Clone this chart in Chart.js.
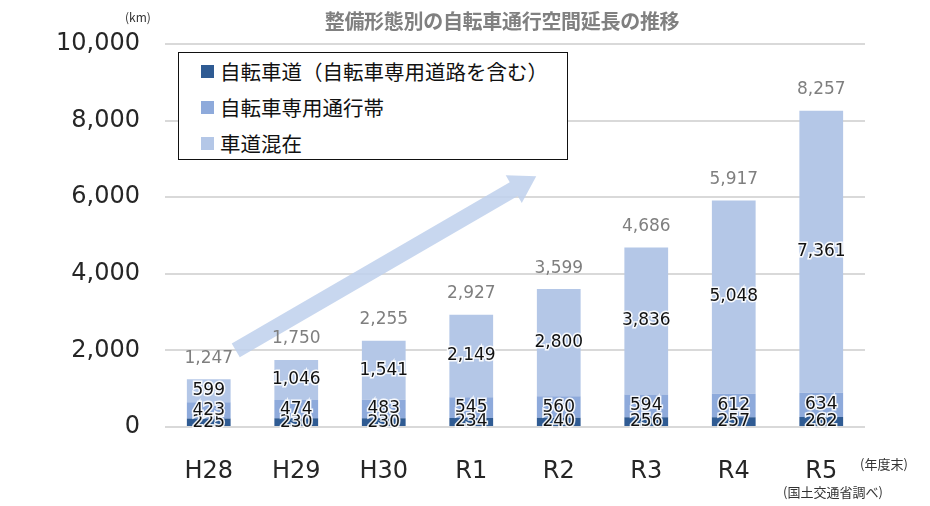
<!DOCTYPE html>
<html lang="ja">
<head>
<meta charset="utf-8">
<script src="https://cdn.jsdelivr.net/npm/chart.js@4.4.0/dist/chart.umd.min.js"></script>
<style>
  html, body { margin: 0; padding: 0; background: #fff; }
  #wrap { position: relative; width: 930px; height: 506px; }
  #legend {
    position: absolute; left: 178px; top: 52px; width: 388px; height: 106px;
    border: 1.5px solid #111; background: #fff;
    font-family: "Noto Sans CJK JP", sans-serif; font-size: 20.5px; color: #111;
  }
  #legend .row { position: absolute; left: 22px; display: flex; align-items: center; }
  #legend .sw { width: 13px; height: 13px; margin-right: 6px; }
  #title {
    position: absolute; left: 302px; width: 400px; top: 6px; text-align: center;
    font-family: "Noto Sans CJK JP", sans-serif; font-size: 20px; font-weight: bold; color: #808080;
    letter-spacing: -0.3px;
  }
  .note { position: absolute; font-family: "Noto Sans CJK JP", sans-serif; color: #333; font-size: 13px; }
</style>
</head>
<body>
<div id="wrap">
  <canvas id="chart" width="930" height="506"></canvas>
  <div id="title">整備形態別の自転車通行空間延長の推移</div>
  <div id="legend"></div>
  <div class="note" style="left:125px; top:8px; font-size:12px;">(km)</div>
  <div class="note" style="left:860px; top:454px;">(年度末)</div>
  <div class="note" style="left:783px; top:482px;">(国土交通省調べ)</div>
</div>
<script>
// データ
const years = ['H28', 'H29', 'H30', 'R1', 'R2', 'R3', 'R4', 'R5'];
const seriesNames = ['自転車道（自転車専用道路を含む）', '自転車専用通行帯', '車道混在'];
const cycleTrack = [225, 230, 230, 234, 240, 256, 257, 262];
const bikeLane = [423, 474, 483, 545, 560, 594, 612, 634];
const sharedRoad = [599, 1046, 1541, 2149, 2800, 3836, 5048, 7361];
const totals = [1247, 1750, 2255, 2927, 3599, 4686, 5917, 8257];
const yTicks = [0, 2000, 4000, 6000, 8000, 10000];
const colors = ['#2f5b93', '#8eaadb', '#b4c7e7'];

const numFont = '"DejaVu Sans", sans-serif';
const fmt = v => v.toLocaleString('en-US');

// 凡例（HTML）
const legendEl = document.getElementById('legend');
seriesNames.forEach((name, i) => {
    const row = document.createElement('div');
    row.className = 'row';
    row.style.top = (3 + i * 36) + 'px';
    row.innerHTML = `<span class="sw" style="background:${colors[i]}"></span><span>${name}</span>`;
    legendEl.appendChild(row);
});

// 矢印（背景の装飾）
const arrowPlugin = {
    id: 'arrow',
    beforeDatasetsDraw(chart) {
        const { ctx, scales: { x, y } } = chart;
        const x0 = x.getPixelForValue(0) + 27, y0 = y.getPixelForValue(2000);
        const x1 = x.getPixelForValue(3) + 65, y1 = y.getPixelForValue(6550);
        const ang = Math.atan2(y1 - y0, x1 - x0);
        const len = Math.hypot(x1 - x0, y1 - y0);
        const shaft = 8, head = 16, headLen = 26;
        ctx.save();
        ctx.translate(x0, y0);
        ctx.rotate(ang);
        ctx.fillStyle = 'rgba(190, 208, 236, 0.85)';
        ctx.beginPath();
        ctx.moveTo(0, -shaft);
        ctx.lineTo(len - headLen, -shaft);
        ctx.lineTo(len - headLen, -head);
        ctx.lineTo(len, 0);
        ctx.lineTo(len - headLen, head);
        ctx.lineTo(len - headLen, shaft);
        ctx.lineTo(0, shaft);
        ctx.closePath();
        ctx.fill();
        ctx.restore();
    }
};

// 値ラベル
const labelPlugin = {
    id: 'valueLabels',
    afterDatasetsDraw(chart) {
        const ctx = chart.ctx;
        ctx.save();
        ctx.textAlign = 'center';
        ctx.textBaseline = 'middle';
        ctx.font = '17px ' + numFont;
        chart.data.datasets.forEach((ds, di) => {
            const meta = chart.getDatasetMeta(di);
            meta.data.forEach((bar, i) => {
                const cy = (bar.y + bar.base) / 2;
                const txt = fmt(ds.data[i]);
                ctx.lineWidth = 3;
                ctx.strokeStyle = 'rgba(255,255,255,0.9)';
                ctx.strokeText(txt, bar.x, cy);
                ctx.fillStyle = '#111';
                ctx.fillText(txt, bar.x, cy);
            });
        });
        // 合計
        const top = chart.getDatasetMeta(2);
        ctx.fillStyle = '#7f7f7f';
        top.data.forEach((bar, i) => {
            ctx.fillText(fmt(totals[i]), bar.x, bar.y - 21);
        });
        ctx.restore();
    }
};

new Chart(document.getElementById('chart'), {
    type: 'bar',
    data: {
        labels: years,
        datasets: [cycleTrack, bikeLane, sharedRoad].map((d, i) => ({
            label: seriesNames[i],
            data: d,
            backgroundColor: colors[i],
            barPercentage: 0.5,
            categoryPercentage: 1
        }))
    },
    options: {
        responsive: false,
        animation: false,
        layout: { padding: { top: 44, right: 65, bottom: 0, left: 0 } },
        plugins: {
            legend: { display: false },
            tooltip: { enabled: false }
        },
        scales: {
            x: {
                stacked: true,
                grid: { display: false },
                border: { display: false },
                ticks: {
                    color: '#262626',
                    padding: 22,
                    font: { family: numFont, size: 24 }
                },
                afterFit(scale) { scale.height = 79; }
            },
            y: {
                stacked: true,
                min: 0,
                max: 10000,
                afterBuildTicks(scale) { scale.ticks = yTicks.map(v => ({ value: v })); },
                grid: { color: '#d9d9d9', lineWidth: 2, drawTicks: false },
                border: { display: false },
                ticks: {
                    color: '#262626',
                    padding: 25,
                    font: { family: numFont, size: 24 },
                    callback: v => fmt(v)
                },
                afterFit(scale) { scale.width = 165; }
            }
        }
    },
    plugins: [arrowPlugin, labelPlugin]
});
</script>
</body>
</html>
